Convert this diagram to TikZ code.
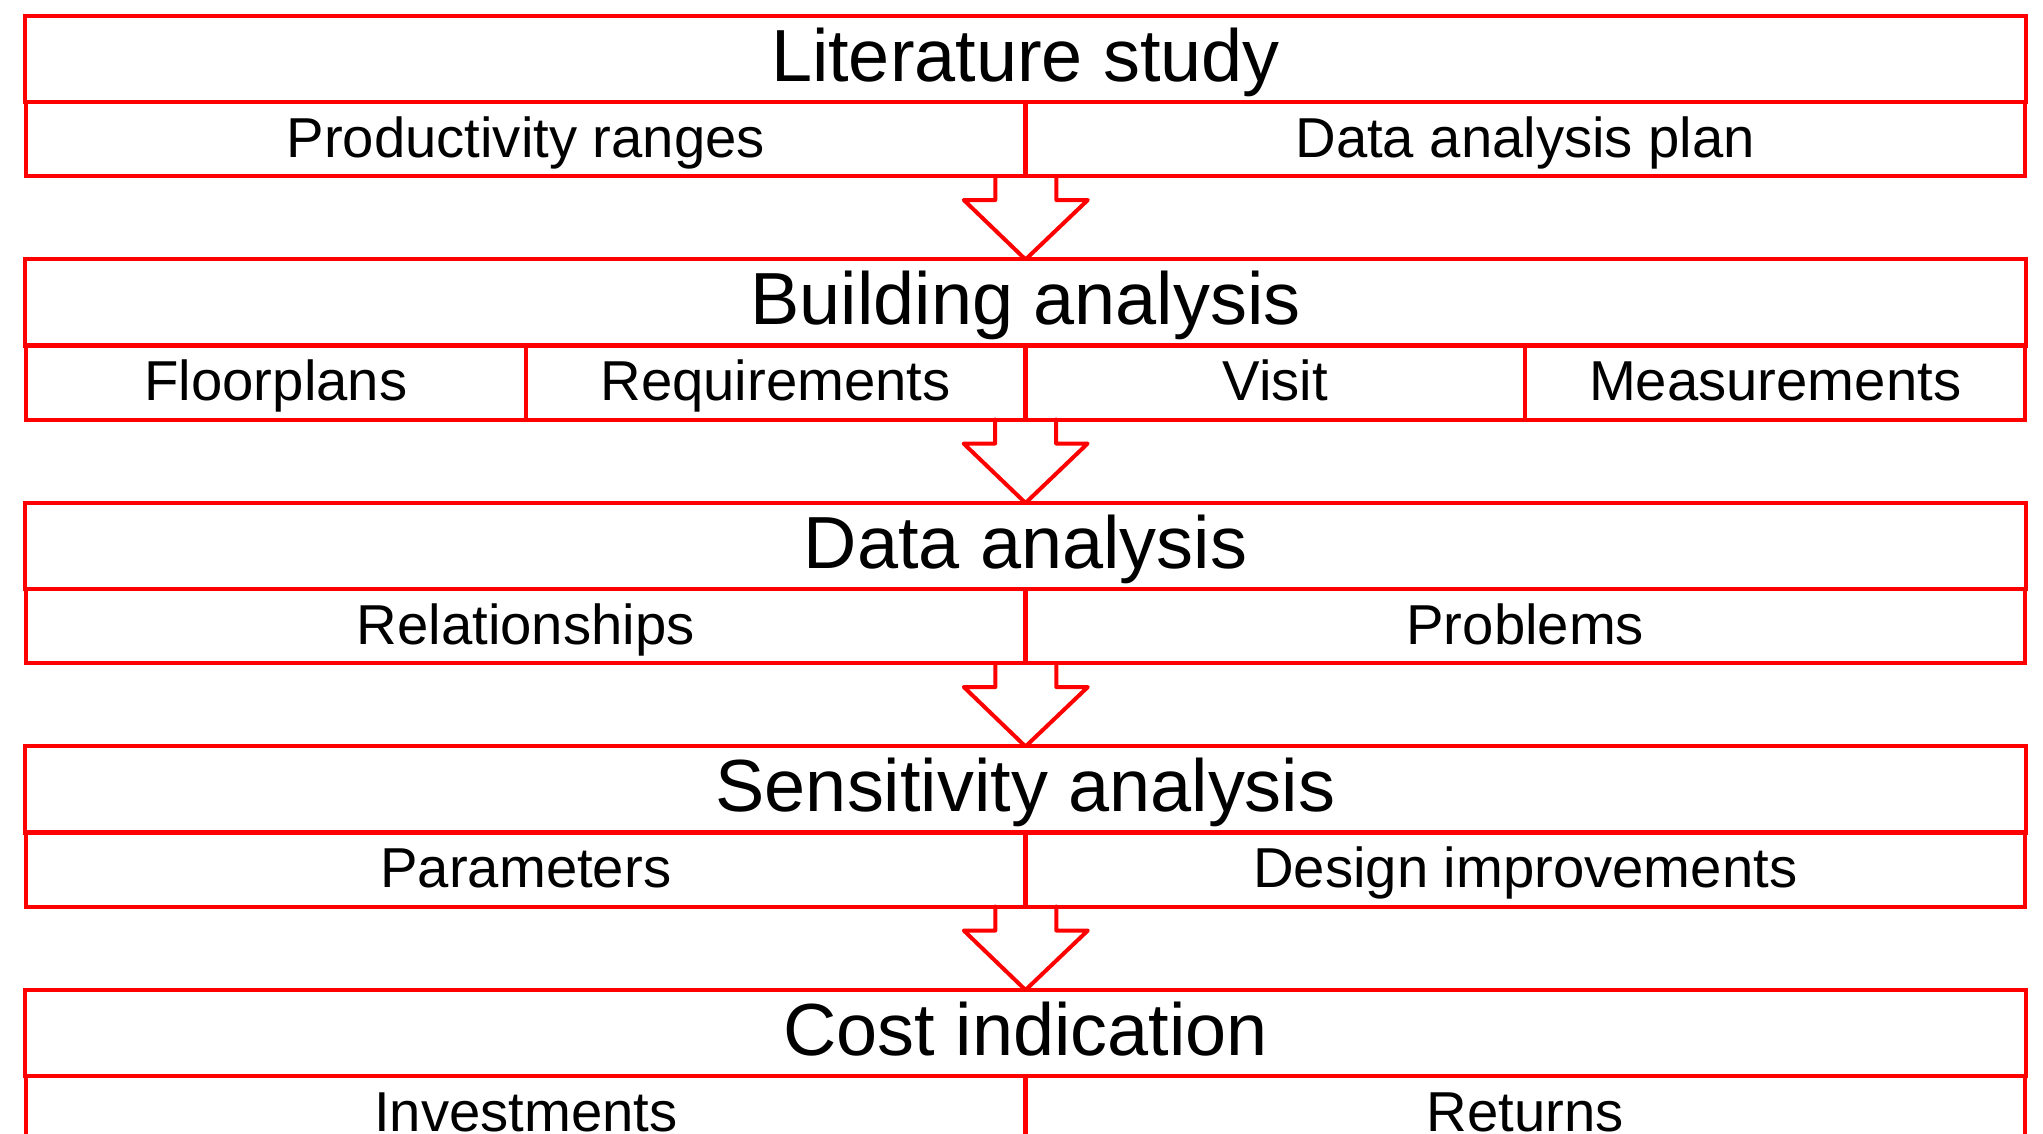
\documentclass[tikz,border=0pt]{standalone}
\usepackage{fontspec}
\setmainfont{Liberation Sans}
\usetikzlibrary{calc}
\definecolor{stepred}{RGB}{255,0,0}
\begin{document}
\begin{tikzpicture}[x=0.01cm,y=-0.01cm,
  boxbase/.style={draw=stepred,line width=0.04cm,rectangle,outer sep=0pt,inner ysep=0pt,inner xsep=0pt},
  titlebox/.style={boxbase,minimum width=19.99cm,minimum height=0.86cm,
    font=\fontsize{21}{25}\selectfont,text height=0.53cm,text depth=0.09cm},
  subbox/.style={boxbase,minimum height=0.74cm,
    font=\fontsize{16}{19}\selectfont,text height=0.40cm,text depth=0.04cm},
  halfbox/.style={subbox,minimum width=9.995cm},
  quarterbox/.style={subbox,minimum width=4.9975cm},
  flow/.style={draw=stepred,line width=0.04cm,line join=round,line cap=round}]
\path[use as bounding box] (0,0) rectangle (2043,1133);
\clip (0,0) rectangle (2043,1133);

% Step 1
\node[titlebox] (lit) at (1025.5,59) {Literature study};
\node[halfbox] (prod) at (525.75,139) {Productivity ranges};
\node[halfbox] (plan) at (1525.25,139) {Data analysis plan};

% Step 2
\node[titlebox] (bld) at (1025.5,302.5) {Building analysis};
\node[quarterbox] (floor) at (275.9,382.5) {Floorplans};
\node[quarterbox] (req) at (775.6,382.5) {Requirements};
\node[quarterbox] (visit) at (1275.4,382.5) {Visit};
\node[quarterbox] (meas) at (1775.1,382.5) {Measurements};

% Step 3
\node[titlebox] (data) at (1025.5,546) {Data analysis};
\node[halfbox] (rel) at (525.75,626) {Relationships};
\node[halfbox] (prob) at (1525.25,626) {Problems};

% Step 4
\node[titlebox] (sens) at (1025.5,789.5) {Sensitivity analysis};
\node[halfbox] (par) at (525.75,869.5) {Parameters};
\node[halfbox] (impr) at (1525.25,869.5) {Design improvements};

% Step 5
\node[titlebox] (cost) at (1025.5,1033) {Cost indication};
\node[halfbox] (inv) at (525.75,1113) {Investments};
\node[halfbox] (ret) at (1525.25,1113) {Returns};

% Hollow block arrows between the steps
\foreach \a/\b in {prod/bld, req/data, rel/sens, par/cost}{
  \draw[flow] ($(\a.south east)+(-30.5,0)$) -- ($(\a.south east)+(-30.5,24)$)
    -- ($(\a.south east)+(-62,24)$) -- (\b.north)
    -- ($(\a.south east)+(62,24)$) -- ($(\a.south east)+(30.5,24)$)
    -- ($(\a.south east)+(30.5,0)$);
}
\end{tikzpicture}
\end{document}
